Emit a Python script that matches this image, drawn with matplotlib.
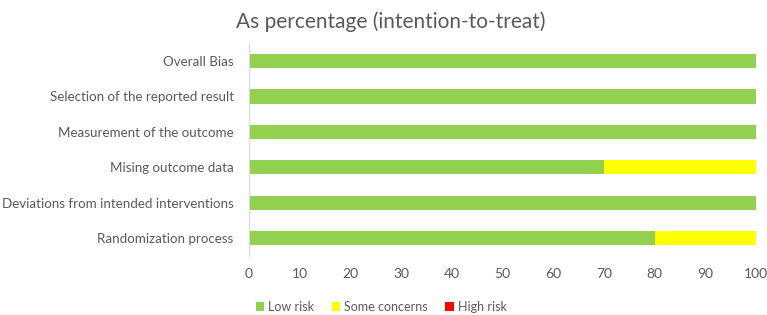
import matplotlib
matplotlib.use("Agg")
import matplotlib.pyplot as plt
import numpy as np

categories = ["Randomization process", "Deviations from intended interventions",
              "Mising outcome data", "Measurement of the outcome",
              "Selection of the reported result", "Overall Bias"]
low_risk = [80, 100, 70, 100, 100, 100]
some_concerns = [20, 0, 30, 0, 0, 0]
high_risk = [0, 0, 0, 0, 0, 0]
series_names = ["Low risk", "Some concerns", "High risk"]
colors = ["#92D050", "#FFFF00", "#FF0000"]
xticks = [0, 10, 20, 30, 40, 50, 60, 70, 80, 90, 100]

plt.rcParams['font.family'] = ['Lato', 'DejaVu Sans']
fig = plt.figure(figsize=(7.67, 3.15), dpi=100)
ax = fig.add_axes([0.3246, 0.188, 0.661, 0.6745])

y = np.arange(len(categories))
left = np.zeros(len(categories))
for vals, name, c in zip([low_risk, some_concerns, high_risk], series_names, colors):
    ax.barh(y, vals, left=left, height=0.4, color=c, label=name)
    left = left + np.array(vals)

ax.set_xlim(0, 100)
ax.set_ylim(-0.5, len(categories) - 0.5)
ax.set_yticks(y)
ax.set_yticklabels(categories, fontsize=9.6, color="#595959")
ax.set_xticks(xticks)
ax.set_xticklabels([str(t) for t in xticks], fontsize=10, color="#595959")
ax.tick_params(axis='y', length=0, pad=11)
ax.tick_params(axis='x', length=0, pad=9)
for s in ["top", "right", "bottom"]:
    ax.spines[s].set_visible(False)
ax.spines["left"].set_color("#D9D9D9")

fig.text(0.51, 0.93, "As percentage (intention-to-treat)", ha="center", va="center",
         fontsize=15, color="#595959")

handles, labels = ax.get_legend_handles_labels()
fig.legend(handles, labels, loc="center", bbox_to_anchor=(0.497, 0.025), ncol=3,
           frameon=False, fontsize=9, handlelength=0.7, handleheight=0.7,
           handletextpad=0.3, columnspacing=1.4, labelcolor="#595959")

fig.savefig("out.png", dpi=100)
